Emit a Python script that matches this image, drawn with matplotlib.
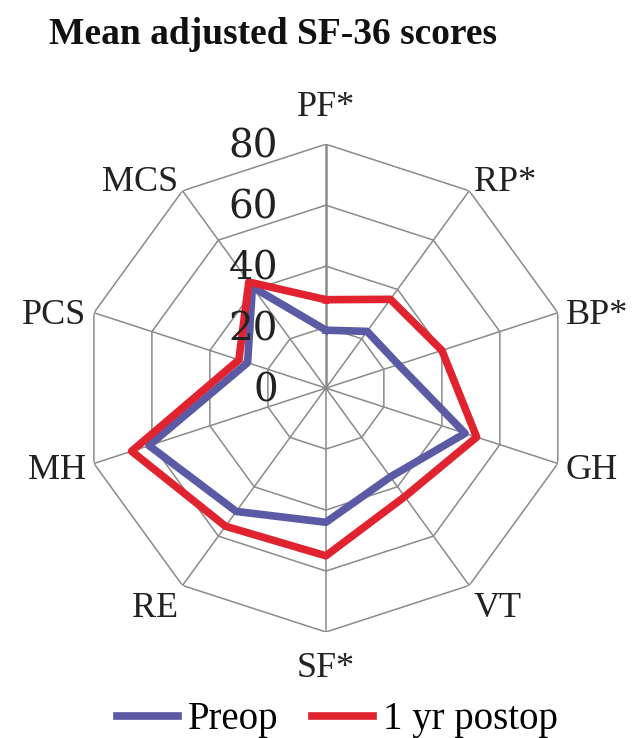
import numpy as np
import matplotlib
matplotlib.use("Agg")
import matplotlib.pyplot as plt
from matplotlib.transforms import offset_copy

plt.rcParams['font.family'] = ['Liberation Serif', 'DejaVu Serif']

# SF-36 domains, clockwise from the top
categories = ['PF*', 'RP*', 'BP*', 'GH', 'VT', 'SF*', 'RE', 'MH', 'PCS', 'MCS']
preop = [19, 23, 25, 48, 36, 44, 50, 61, 27, 41]
postop = [29, 36, 40, 52, 44, 55, 56, 67, 30, 43]
rings = [0, 20, 40, 60, 80]
series_names = ['Preop', '1 yr postop']

n = len(categories)
angles = np.linspace(0, 2 * np.pi, n, endpoint=False)
closed = np.append(angles, angles[0])

fig = plt.figure(figsize=(6.34, 7.38), dpi=100)
ax = fig.add_axes([0.129, 0.1436, 0.770, 0.661], projection='polar')
ax.set_theta_offset(np.pi / 2)
ax.set_theta_direction(-1)
ax.set_ylim(0, rings[-1])
ax.grid(False)
ax.spines['polar'].set_visible(False)
ax.set_xticks([])
ax.set_yticks([])

grid_col = '#8a8a8a'
# polygon rings
for r in rings[1:]:
    ax.plot(closed, [r] * (n + 1), color=grid_col, lw=1.1, zorder=1)
# spokes
for i, a in enumerate(angles):
    ax.plot([a, a], [0, rings[-1]], color=grid_col, lw=1.8 if i == 0 else 1.1, zorder=1)

ax.plot(closed, preop + preop[:1], color='#5b5aa4', lw=5.5, label=series_names[0], zorder=3)
ax.plot(closed, postop + postop[:1], color='#e0232f', lw=5.5, label=series_names[1], zorder=4)

# value labels left of the vertical axis
lab_tr = offset_copy(ax.transData, fig=fig, x=-48, y=-3, units='dots')
for r in rings:
    ax.text(0, r, str(r), transform=lab_tr, ha='right', va='center', fontsize=28,
            family='DejaVu Serif', color='#222222', zorder=5)

# category labels just outside the outer ring
for a, lab in zip(angles, categories):
    sx, cy = np.sin(a), np.cos(a)
    ha = 'left' if sx > 0.1 else ('right' if sx < -0.1 else 'center')
    if abs(sx) < 0.1:
        va = 'bottom' if cy > 0 else 'top'
        dx, dy = 0, 20 * np.sign(cy)
    elif cy > 0.5:
        va = 'baseline'
        dx, dy = 8 * sx, 0
    elif cy < -0.5:
        va = 'top'
        dx, dy = 8 * sx, 8 * cy
    else:
        va = 'center'
        dx, dy = 8 * sx, 8 * cy - 5
    tr = offset_copy(ax.transData, fig=fig, x=dx, y=dy, units='dots')
    ax.text(a, rings[-1], lab, transform=tr, ha=ha, va=va, fontsize=26, color='#222222')

fig.text(0.43, 0.953, 'Mean adjusted SF-36 scores', ha='center', va='center',
         fontsize=27, fontweight='bold', color='#111111')

fig.legend(loc='center', bbox_to_anchor=(0.532, 0.0244), ncol=2, frameon=False,
           fontsize=28, handlelength=1.57, columnspacing=0.85, handletextpad=0.26)

fig.savefig('out.png', dpi=100, facecolor='white')
